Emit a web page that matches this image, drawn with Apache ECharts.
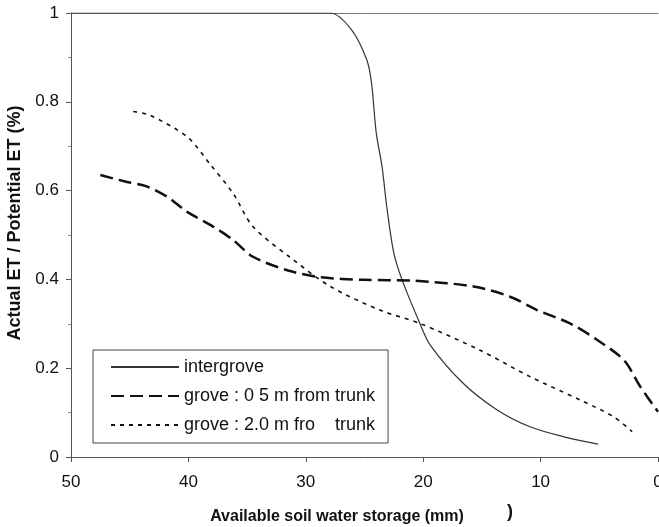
<!DOCTYPE html>
<html style="width: 100%; height: 100%">
<head>
    <meta charset="utf-8">
    <script src="https://cdn.jsdelivr.net/npm/echarts@6/dist/echarts.min.js"></script>
</head>
<body style="width: 100%; height: 100%; margin: 0; background: #fff">
<div id="container" style="width: 659px; height: 527px"></div>

<script type="text/javascript">
    // [available soil water (mm), actual ET / potential ET]
    var intergrove = [
        [50, 1], [40, 1], [30, 1], [27.9, 1], [26.1, 0.962], [24.8, 0.894], [24.4, 0.842],
        [24.0, 0.730], [23.5, 0.653], [23.1, 0.563], [22.5, 0.459], [21.8, 0.399],
        [20.3, 0.302], [19.4, 0.252], [16.6, 0.166], [13.7, 0.106], [10.9, 0.068],
        [8.1, 0.046], [5.1, 0.029]
    ];
    var grove05 = [
        [47.5, 0.635], [45.3, 0.620], [43.5, 0.609], [41.8, 0.586], [40.1, 0.552],
        [37.9, 0.519], [36.2, 0.489], [34.5, 0.451], [31.5, 0.420], [28.8, 0.405],
        [25.1, 0.399], [20.8, 0.397], [15.7, 0.384], [12.6, 0.361], [10.3, 0.331],
        [7.5, 0.301], [5.2, 0.264], [2.9, 0.218], [1.5, 0.158], [0, 0.102]
    ];
    var grove20 = [
        [44.7, 0.778], [43.3, 0.770], [40.1, 0.721], [38.2, 0.661], [36.2, 0.594],
        [34.5, 0.519], [31.4, 0.451], [27.9, 0.384], [23.7, 0.331], [20.3, 0.301],
        [15.2, 0.241], [10.9, 0.181], [6.6, 0.128], [3.8, 0.091], [2.2, 0.057]
    ];
    var seriesNames = ['intergrove', 'grove : 0 5 m from trunk', 'grove : 2.0 m fro    trunk'];
    var xTicks = [0, 10, 20, 30, 40, 50];
    var yTicks = [0, 0.2, 0.4, 0.6, 0.8, 1];

    var myChart = echarts.init(document.getElementById('container'));
    var axisColor = '#555';
    var font = 'Arial, "Liberation Sans", sans-serif';

    var option = {
        animation: false,
        grid: {left: 71, right: 1, top: 13, bottom: 70, outerBoundsMode: 'none', containLabel: false},
        legend: {
            orient: 'vertical',
            left: 93,
            top: 350,
            padding: [8, 13, 9, 17],
            itemWidth: 68,
            itemHeight: 14,
            itemGap: 11,
            borderColor: '#444',
            borderWidth: 1,
            data: seriesNames,
            itemStyle: {color: 'transparent', borderWidth: 0, opacity: 0},
            textStyle: {fontFamily: font, fontSize: 18, color: '#111'}
        },
        xAxis: [{
            type: 'value',
            inverse: true,
            min: xTicks[0],
            max: xTicks[xTicks.length - 1],
            interval: 10,
            name: 'Available soil water storage (mm)',
            nameLocation: 'middle',
            nameGap: 52,
            nameTextStyle: {fontFamily: font, fontSize: 16, fontWeight: 'bold', color: '#111', padding: [0, 55, 0, 0]},
            axisLine: {onZero: false, lineStyle: {color: axisColor, width: 1}},
            axisTick: {show: true, length: 5, lineStyle: {color: axisColor}},
            axisLabel: {fontFamily: font, fontSize: 17, color: '#111', margin: 17},
            splitLine: {show: false}
        }, {
            type: 'value',
            position: 'top',
            min: 0,
            max: 50,
            axisLine: {show: true, onZero: false, lineStyle: {color: '#777', width: 1}},
            axisTick: {show: false},
            axisLabel: {show: false},
            splitLine: {show: false}
        }],
        yAxis: {
            type: 'value',
            min: yTicks[0],
            max: yTicks[yTicks.length - 1],
            interval: 0.2,
            name: 'Actual ET / Potential ET (%)',
            nameLocation: 'middle',
            nameGap: 46,
            nameTextStyle: {fontFamily: font, fontSize: 18, fontWeight: 'bold', color: '#111', padding: [0, 0, 0, 24]},
            axisLine: {show: true, onZero: false, lineStyle: {color: axisColor, width: 1}},
            axisTick: {show: true, length: 5, lineStyle: {color: axisColor}},
            minorTick: {show: true, splitNumber: 2, length: 3, lineStyle: {color: '#888'}},
            axisLabel: {fontFamily: font, fontSize: 17, color: '#111', margin: 12},
            splitLine: {show: false}
        },
        graphic: [{
            type: 'text',
            left: 507,
            top: 503,
            style: {text: ')', font: 'bold 18px Arial, "Liberation Sans", sans-serif', fill: '#111'}
        }],
        series: [{
            name: seriesNames[0],
            type: 'line',
            data: intergrove,
            smooth: 0.3,
            symbol: 'none',
            lineStyle: {color: '#333', width: 1.2, type: 'solid'},
            itemStyle: {color: '#333'}
        }, {
            name: seriesNames[1],
            type: 'line',
            data: grove05,
            smooth: 0.3,
            symbol: 'none',
            lineStyle: {color: '#111', width: 2.5, type: [13, 6]},
            itemStyle: {color: '#111'}
        }, {
            name: seriesNames[2],
            type: 'line',
            data: grove20,
            smooth: 0.3,
            symbol: 'none',
            lineStyle: {color: '#111', width: 1.6, type: [4, 5]},
            itemStyle: {color: '#111'}
        }]
    };
    myChart.setOption(option);
</script>
</body>
</html>
